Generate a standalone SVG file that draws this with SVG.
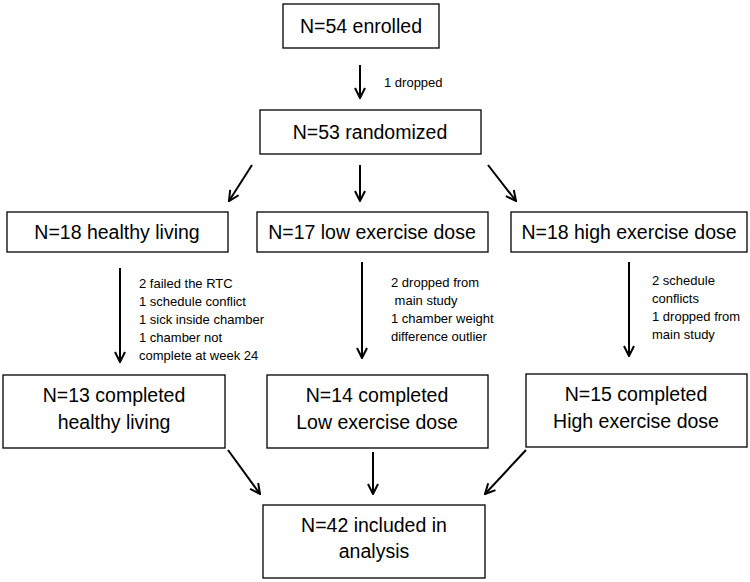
<svg xmlns="http://www.w3.org/2000/svg" width="750" height="582" viewBox="0 0 750 582">
<defs>
<marker id="ah" viewBox="0 0 12 12" refX="11" refY="6" markerWidth="12" markerHeight="12" markerUnits="userSpaceOnUse" orient="auto">
<path d="M1,1 L11,6 L1,11" fill="none" stroke="#000" stroke-width="2"/>
</marker>
<style>
.box{fill:#fff;stroke:#000;stroke-width:1.3}
.t{font-family:"Liberation Sans",Arial,sans-serif;font-size:19.5px;fill:#000;text-anchor:middle}
.s{font-family:"Liberation Sans",Arial,sans-serif;font-size:13px;fill:#000}
.c{stroke:#000;stroke-width:2;fill:none;marker-end:url(#ah)}
</style>
</defs>
<rect width="750" height="582" fill="#fff"/>
<g id="enrolled"><rect class="box" x="283" y="4" width="156" height="44"/><text class="t" x="361" y="33">N=54 enrolled</text></g>
<g id="randomized"><rect class="box" x="260" y="110" width="221" height="44"/><text class="t" x="370" y="139">N=53 randomized</text></g>
<g id="healthy"><rect class="box" x="7" y="212" width="221" height="40"/><text class="t" x="117" y="239">N=18 healthy living</text></g>
<g id="low"><rect class="box" x="257" y="212" width="231" height="40"/><text class="t" x="372" y="239">N=17 low exercise dose</text></g>
<g id="high"><rect class="box" x="511" y="212" width="236" height="40"/><text class="t" x="629" y="239">N=18 high exercise dose</text></g>
<g id="comp-healthy"><rect class="box" x="3" y="375" width="222" height="73"/><text class="t" x="114" y="402">N=13 completed</text><text class="t" x="114" y="429">healthy living</text></g>
<g id="comp-low"><rect class="box" x="267" y="375" width="221" height="73"/><text class="t" x="377" y="402">N=14 completed</text><text class="t" x="377" y="429">Low exercise dose</text></g>
<g id="comp-high"><rect class="box" x="526" y="374" width="221" height="73"/><text class="t" x="636" y="401">N=15 completed</text><text class="t" x="636" y="428">High exercise dose</text></g>
<g id="included"><rect class="box" x="263" y="505" width="222" height="73"/><text class="t" x="374" y="532">N=42 included in</text><text class="t" x="374" y="558">analysis</text></g>
<g id="labels">
<text class="s" x="384" y="87">1 dropped</text>
<text class="s" x="139" y="288">2 failed the RTC</text>
<text class="s" x="139" y="306">1 schedule conflict</text>
<text class="s" x="139" y="324">1 sick inside chamber</text>
<text class="s" x="139" y="342">1 chamber not</text>
<text class="s" x="139" y="360">complete at week 24</text>
<text class="s" x="391" y="287">2 dropped from</text>
<text class="s" x="391" y="305" xml:space="preserve"> main study</text>
<text class="s" x="391" y="323">1 chamber weight</text>
<text class="s" x="391" y="341">difference outlier</text>
<text class="s" x="652" y="285">2 schedule</text>
<text class="s" x="652" y="303">conflicts</text>
<text class="s" x="652" y="321">1 dropped from</text>
<text class="s" x="652" y="339">main study</text>
</g>
<g id="connectors">
<line class="c" x1="360" y1="65" x2="360" y2="98"/>
<line class="c" x1="252" y1="165" x2="229" y2="201"/>
<line class="c" x1="360" y1="165" x2="360" y2="201"/>
<line class="c" x1="488" y1="165" x2="516" y2="201"/>
<line class="c" x1="120" y1="268" x2="120" y2="362"/>
<line class="c" x1="362" y1="262" x2="362" y2="358"/>
<line class="c" x1="629" y1="262" x2="629" y2="356"/>
<line class="c" x1="228" y1="450" x2="260" y2="494"/>
<line class="c" x1="373" y1="452" x2="373" y2="494"/>
<line class="c" x1="526" y1="450" x2="485" y2="494"/>
</g>
</svg>
